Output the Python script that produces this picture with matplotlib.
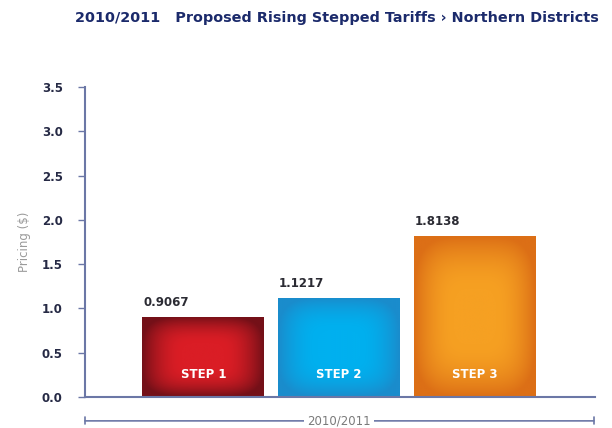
import numpy as np
import matplotlib
matplotlib.use("Agg")
import matplotlib.pyplot as plt
from matplotlib.colors import to_rgb

# datos
steps = ["STEP 1", "STEP 2", "STEP 3"]
prices = [0.9067, 1.1217, 1.8138]
value_labels = ["0.9067", "1.1217", "1.8138"]
edge_colors = ["#741018", "#1a8ccc", "#dc6f16"]
center_colors = ["#da1d25", "#00b0ef", "#f6a022"]
period = "2010/2011"
yticks = [0.0, 0.5, 1.0, 1.5, 2.0, 2.5, 3.0, 3.5]

axis_color = "#6b77a6"
navy = "#1b2a6b"

fig = plt.figure(figsize=(6.12, 4.28), dpi=100)
ax = fig.add_axes([0.1389, 0.0724, 0.8333, 0.7243])

x = np.arange(len(steps))
bars = ax.bar(x, prices, width=0.897, color=center_colors, zorder=2)


def gradient_fill(ax, bar, c_edge, c_center):
    # degradado radial suave dentro de cada barra
    x0, y0 = bar.get_x(), bar.get_y()
    w, h = bar.get_width(), bar.get_height()
    n = 150
    u = np.linspace(-1, 1, n)
    U, V = np.meshgrid(u, u)
    r = (U ** 4 + V ** 4) ** 0.25
    t = np.clip((r - 0.35) / 0.65, 0, 1) ** 1.8
    ce = np.array(to_rgb(c_edge))
    cc = np.array(to_rgb(c_center))
    img = cc[None, None, :] * (1 - t[..., None]) + ce[None, None, :] * t[..., None]
    im = ax.imshow(img, extent=[x0, x0 + w, y0, y0 + h], origin="lower",
                   aspect="auto", zorder=2.5, interpolation="bilinear")
    im.set_clip_path(bar)


for bar, ce, cc, lab, vl in zip(bars, edge_colors, center_colors, steps, value_labels):
    gradient_fill(ax, bar, ce, cc)
    ax.text(bar.get_x() + 0.005, bar.get_height() + 0.09, vl, ha="left", va="bottom",
            fontsize=8.5, fontweight="bold", color="#2b2b33", zorder=4)
    ax.text(bar.get_x() + bar.get_width() / 2, 0.25, lab, ha="center", va="center",
            fontsize=8.5, fontweight="bold", color="white", zorder=4)

ax.set_xlim(-0.871, 2.882)
ax.set_ylim(0, 3.5)
ax.set_yticks(yticks)
ax.set_yticklabels([f"{t:.1f}" for t in yticks])
ax.set_xticks([])

for s in ["top", "right"]:
    ax.spines[s].set_visible(False)
for s in ["left", "bottom"]:
    ax.spines[s].set_color(axis_color)
    ax.spines[s].set_linewidth(1.5)
    ax.spines[s].set_zorder(3)

ax.tick_params(axis="y", colors=axis_color, length=5, width=1, pad=11,
               labelcolor="#262a45", labelsize=8.5)
for t in ax.get_yticklabels():
    t.set_fontweight("bold")

ax.set_ylabel("Pricing ($)", color="#9a9a9a", fontsize=8.5, labelpad=8)

# corchete inferior con el periodo
yb = -0.077
ax.annotate("", xy=(0.0, yb), xytext=(0.998, yb), xycoords="axes fraction",
            arrowprops=dict(arrowstyle="|-|, widthA=0.25, widthB=0.25",
                            color=axis_color, lw=1.2, shrinkA=0, shrinkB=0))
ax.text(x[1], yb, period, transform=ax.get_xaxis_transform(), ha="center", va="center",
        fontsize=8.5, color="#7a7a7a",
        bbox=dict(facecolor="white", edgecolor="none", pad=2.5))

fig.text(0.978, 0.958, "2010/2011   Proposed Rising Stepped Tariffs \u203a Northern Districts",
         ha="right", va="center", fontsize=10.4, fontweight="bold", color=navy)

fig.savefig("out.png", dpi=100)
